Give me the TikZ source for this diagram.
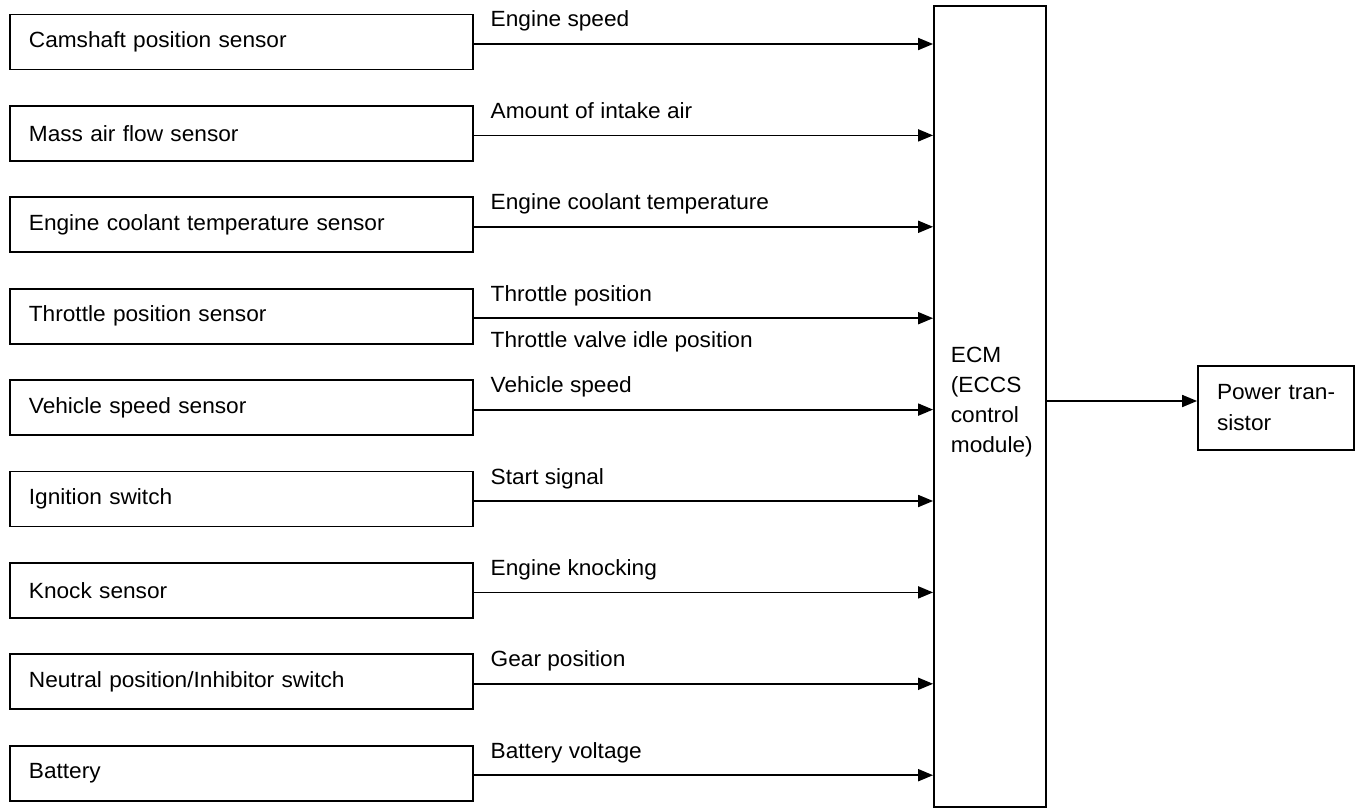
\documentclass[tikz,border=0pt]{standalone}
\usepackage{fontspec}
\setmainfont[FakeStretch=1.03]{Liberation Sans}
\usetikzlibrary{arrows.meta}
\begin{document}
\begin{tikzpicture}[x=1pt,y=-1pt,line width=1.8pt,
  sensor/.style={draw,minimum width=463pt,minimum height=55pt,text width=425pt,inner xsep=19pt,inner ysep=0pt,align=left,anchor=west,font=\fontsize{22}{26}\selectfont},
  sig/.style={anchor=base west,inner sep=0pt,font=\fontsize{22}{26}\selectfont},
  arr/.style={-{Triangle[length=15pt,width=12pt]}}]
\useasboundingbox (0,0) rectangle (1358,811);
\node[sensor] (s1) at (9,42) {Camshaft position sensor};
\node[sensor] (s2) at (9,133.4) {Mass air flow sensor};
\node[sensor] (s3) at (9,224.8) {Engine coolant temperature sensor};
\node[sensor] (s4) at (9,316.2) {Throttle position sensor};
\node[sensor] (s5) at (9,407.6) {Vehicle speed sensor};
\node[sensor] (s6) at (9,499) {Ignition switch};
\node[sensor] (s7) at (9,590.4) {Knock sensor};
\node[sensor] (s8) at (9,681.8) {Neutral position/Inhibitor switch};
\node[sensor] (s9) at (9,773.2) {Battery};
\node[draw,minimum width=112pt,minimum height=801pt,inner sep=0pt] (ecm) at (990,406.5) {};
\node[anchor=west,align=left,inner sep=0pt,font=\fontsize{22}{30}\selectfont] (ecmt) at (950,402) {ECM\\(ECCS\\control\\module)};
\node[draw,minimum width=156pt,minimum height=84pt,text width=118pt,inner xsep=19pt,inner ysep=0pt,align=left,font=\fontsize{22}{31}\selectfont] (pt) at (1276,408) {\mbox{Power tran-}\\sistor};
\foreach \i in {1,...,9}{
  \draw[arr] ([yshift=-2pt]s\i.east) -- ([yshift=-2pt]s\i.east -| ecm.west);
}
\node[sig] (l1) at ([xshift=16pt,yshift=15pt]s1.east) {Engine speed};
\node[sig] (l2) at ([xshift=16pt,yshift=15pt]s2.east) {Amount of intake air};
\node[sig] (l3) at ([xshift=16pt,yshift=15pt]s3.east) {Engine coolant temperature};
\node[sig] (l4) at ([xshift=16pt,yshift=15pt]s4.east) {Throttle position};
\node[sig] (l4b) at ([xshift=16pt,yshift=-31pt]s4.east) {Throttle valve idle position};
\node[sig] (l5) at ([xshift=16pt,yshift=15pt]s5.east) {Vehicle speed};
\node[sig] (l6) at ([xshift=16pt,yshift=15pt]s6.east) {Start signal};
\node[sig] (l7) at ([xshift=16pt,yshift=15pt]s7.east) {Engine knocking};
\node[sig] (l8) at ([xshift=16pt,yshift=15pt]s8.east) {Gear position};
\node[sig] (l9) at ([xshift=16pt,yshift=15pt]s9.east) {Battery voltage};
\coordinate (outy) at (1120,401);
\draw[arr] (outy -| ecm.east) -- (outy -| pt.west);
\end{tikzpicture}
\end{document}
